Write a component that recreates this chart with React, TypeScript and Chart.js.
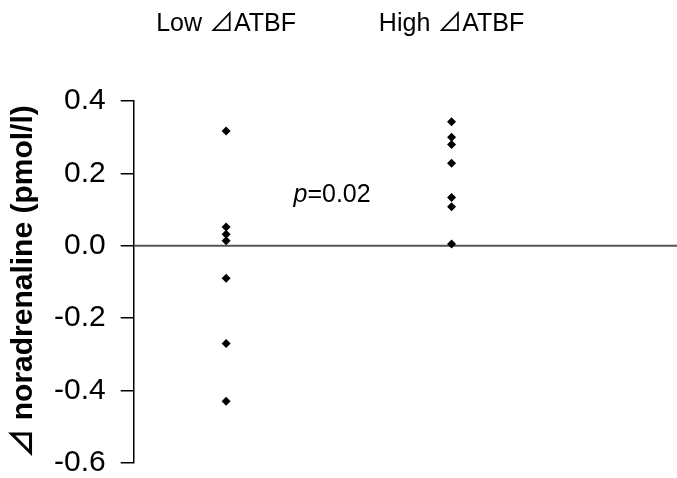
import { useEffect, useRef } from "react";
import { Chart, registerables } from "chart.js";
Chart.register(...registerables);

const groupLabels = ["Low ⊿ATBF", "High ⊿ATBF"];
const groupPositions = [1, 2];
const lowValues = [0.317, 0.052, 0.032, 0.014, -0.09, -0.27, -0.43];
const highValues = [0.343, 0.3, 0.28, 0.228, 0.133, 0.108, 0.005];
const yTicks = [-0.6, -0.4, -0.2, 0.0, 0.2, 0.4];
const yTitle = "⊿ noradrenaline (pmol/l)";
const pItalic = "p";
const pRest = "=0.02";
const pAt = { x: 1.47, y: 0.14 };

const X_MIN = 0.59;
const X_MAX = 3.0;
const FONT = "'Liberation Sans', Arial, 'Noto Sans CJK JP', 'DejaVu Sans', sans-serif";

const pTextPlugin = {
  id: "pText",
  afterDatasetsDraw(chart: any) {
    const { ctx, scales } = chart;
    const px = scales.x.getPixelForValue(pAt.x);
    const py = scales.y.getPixelForValue(pAt.y);
    ctx.save();
    ctx.fillStyle = "#000";
    ctx.textBaseline = "middle";
    ctx.font = `italic 25px ${FONT}`;
    const w1 = ctx.measureText(pItalic).width;
    ctx.font = `25px ${FONT}`;
    const w2 = ctx.measureText(pRest).width;
    const start = px - (w1 + w2) / 2;
    ctx.textAlign = "left";
    ctx.font = `italic 25px ${FONT}`;
    ctx.fillText(pItalic, start, py);
    ctx.font = `25px ${FONT}`;
    ctx.fillText(pRest, start + w1, py);
    ctx.restore();
  },
};

export default function App() {
  const ref = useRef<HTMLCanvasElement>(null);
  useEffect(() => {
    if (!ref.current) return;
    const chart = new Chart(ref.current, {
      type: "scatter",
      data: {
        datasets: [
          {
            label: groupLabels[0],
            data: lowValues.map((v) => ({ x: groupPositions[0], y: v })),
            pointStyle: "rectRot",
            pointRadius: 4.5,
            backgroundColor: "#000",
            borderColor: "#000",
            borderWidth: 0,
          },
          {
            label: groupLabels[1],
            data: highValues.map((v) => ({ x: groupPositions[1], y: v })),
            pointStyle: "rectRot",
            pointRadius: 4.5,
            backgroundColor: "#000",
            borderColor: "#000",
            borderWidth: 0,
          },
          {
            type: "line",
            label: "zero",
            data: [
              { x: X_MIN, y: 0 },
              { x: X_MAX, y: 0 },
            ],
            borderColor: "#555",
            borderWidth: 2,
            pointRadius: 0,
            order: 10,
          } as any,
        ],
      },
      options: {
        animation: false,
        responsive: false,
        layout: { autoPadding: false, padding: { top: -53, left: 0, right: 0, bottom: 0 } },
        plugins: { legend: { display: false }, tooltip: { enabled: false } },
        scales: {
          x: {
            type: "linear",
            position: "top",
            min: X_MIN,
            max: X_MAX,
            afterBuildTicks: (scale: any) => {
              scale.ticks = groupPositions.map((v) => ({ value: v }));
            },
            grid: { display: false, drawTicks: false },
            border: { display: false },
            ticks: {
              autoSkip: false,
              maxRotation: 0,
              padding: 62,
              color: "#000",
              font: { family: FONT, size: 25, lineHeight: 1.2 },
              callback: (v: any) => {
                const i = groupPositions.indexOf(Number(v));
                return i >= 0 ? groupLabels[i] : "";
              },
            },
          },
          y: {
            type: "linear",
            min: -0.6,
            max: 0.4,
            afterBuildTicks: (scale: any) => {
              scale.ticks = yTicks.map((v) => ({ value: v }));
            },
            border: { display: true, color: "#000", width: 1.5 },
            grid: {
              drawOnChartArea: false,
              drawTicks: true,
              tickLength: 13,
              color: "#000",
              lineWidth: 1.5,
            },
            ticks: {
              autoSkip: false,
              padding: 15,
              color: "#000",
              font: { family: FONT, size: 30, lineHeight: 0.01 },
              callback: (v: any) => Number(v).toFixed(1),
            },
            title: {
              display: true,
              text: yTitle,
              color: "#000",
              font: { family: FONT, size: 30, weight: "bold", lineHeight: 1.0 },
              padding: { top: 9, bottom: 0 },
            },
          },
        },
      },
      plugins: [pTextPlugin],
    });
    return () => chart.destroy();
  }, []);
  return (
    <div style={{ position: "fixed", left: 0, top: 0, width: 677, height: 478, background: "#fff" }}>
      <canvas ref={ref} width={677} height={478} style={{ display: "block" }} />
    </div>
  );
}
